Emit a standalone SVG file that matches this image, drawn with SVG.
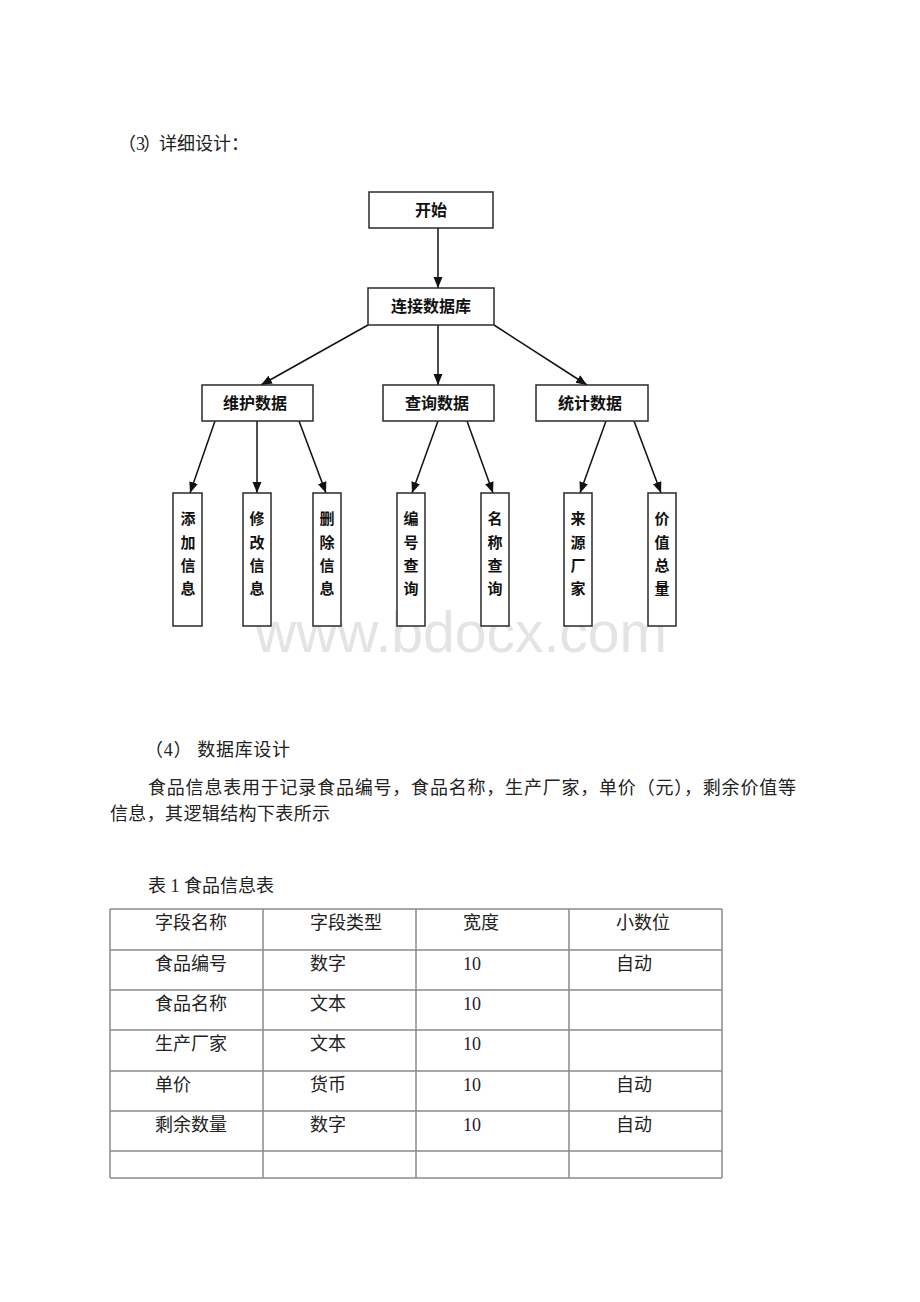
<svg xmlns="http://www.w3.org/2000/svg" width="920" height="1302" viewBox="0 0 920 1302">
<style>
.bg{fill:#ffffff}
.box{fill:#ffffff;stroke:#2a2a2a;stroke-width:1.5}
.fl{font-family:"Noto Sans CJK SC",sans-serif;font-weight:bold;font-size:16px;fill:#111;text-anchor:middle}
.lf{font-family:"Noto Sans CJK SC",sans-serif;font-weight:bold;font-size:15px;fill:#111;text-anchor:middle}
.tx{font-family:"Liberation Serif","Noto Sans CJK SC",serif;font-size:18px;fill:#222;font-variant-ligatures:none}
.conn line{stroke:#111;stroke-width:1.5}
.grid line{stroke:#8a8a8a;stroke-width:1.5}
.wm{font-family:"Liberation Sans",Arial,sans-serif;font-size:58px;fill:#e4e4e4}
</style>
<defs>
<marker id="ah" markerUnits="userSpaceOnUse" markerWidth="12" markerHeight="10" refX="11" refY="4.5" orient="auto">
<path d="M0,0 L11,4.5 L0,9 z" fill="#111"/>
</marker>
</defs>
<rect class="bg" x="0" y="0" width="920" height="1302"/>
<text class="wm" x="255" y="652" textLength="412" lengthAdjust="spacingAndGlyphs">www.bdocx.com</text>

<g id="heading3">
<text class="tx" x="118" y="150" font-size="17">（</text>
<text class="tx" x="136" y="150" font-size="17">3</text>
<text class="tx" x="143" y="150" font-size="17">）</text>
<text class="tx" x="159" y="150" font-size="17">详细设计：</text>
</g>

<g class="conn">
<line x1="438" y1="228" x2="438" y2="288" marker-end="url(#ah)"/>
<line x1="368" y1="325" x2="261" y2="385" marker-end="url(#ah)"/>
<line x1="438" y1="325" x2="438" y2="385" marker-end="url(#ah)"/>
<line x1="494" y1="325" x2="587" y2="385" marker-end="url(#ah)"/>
<line x1="215" y1="421" x2="190" y2="493" marker-end="url(#ah)"/>
<line x1="257" y1="421" x2="257" y2="493" marker-end="url(#ah)"/>
<line x1="299" y1="421" x2="326" y2="493" marker-end="url(#ah)"/>
<line x1="438" y1="421" x2="412" y2="493" marker-end="url(#ah)"/>
<line x1="467" y1="421" x2="493" y2="493" marker-end="url(#ah)"/>
<line x1="606" y1="421" x2="580" y2="493" marker-end="url(#ah)"/>
<line x1="634" y1="421" x2="661" y2="493" marker-end="url(#ah)"/>
</g>

<g id="start"><rect class="box" x="369" y="192" width="124" height="36"/><text class="fl" x="431" y="216">开始</text></g>
<g id="connect"><rect class="box" x="368" y="288" width="126" height="37"/><text class="fl" x="431" y="312">连接数据库</text></g>
<g id="maintain"><rect class="box" x="202" y="385" width="111" height="36"/><text class="fl" x="255" y="409">维护数据</text></g>
<g id="query"><rect class="box" x="383" y="385" width="111" height="36"/><text class="fl" x="437" y="409">查询数据</text></g>
<g id="stats"><rect class="box" x="536" y="385" width="112" height="36"/><text class="fl" x="590" y="409">统计数据</text></g>

<g id="add"><rect class="box" x="173" y="493" width="29" height="133"/><text class="lf" x="188" y="524">添</text><text class="lf" x="188" y="548">加</text><text class="lf" x="188" y="571">信</text><text class="lf" x="188" y="594">息</text></g>
<g id="modify"><rect class="box" x="243" y="493" width="28" height="133"/><text class="lf" x="257" y="524">修</text><text class="lf" x="257" y="548">改</text><text class="lf" x="257" y="571">信</text><text class="lf" x="257" y="594">息</text></g>
<g id="delete"><rect class="box" x="313" y="493" width="28" height="133"/><text class="lf" x="327" y="524">删</text><text class="lf" x="327" y="548">除</text><text class="lf" x="327" y="571">信</text><text class="lf" x="327" y="594">息</text></g>
<g id="byid"><rect class="box" x="397" y="493" width="28" height="133"/><text class="lf" x="411" y="524">编</text><text class="lf" x="411" y="548">号</text><text class="lf" x="411" y="571">查</text><text class="lf" x="411" y="594">询</text></g>
<g id="byname"><rect class="box" x="481" y="493" width="28" height="133"/><text class="lf" x="495" y="524">名</text><text class="lf" x="495" y="548">称</text><text class="lf" x="495" y="571">查</text><text class="lf" x="495" y="594">询</text></g>
<g id="source"><rect class="box" x="564" y="493" width="28" height="133"/><text class="lf" x="578" y="524">来</text><text class="lf" x="578" y="548">源</text><text class="lf" x="578" y="571">厂</text><text class="lf" x="578" y="594">家</text></g>
<g id="value"><rect class="box" x="648" y="493" width="28" height="133"/><text class="lf" x="662" y="524">价</text><text class="lf" x="662" y="548">值</text><text class="lf" x="662" y="571">总</text><text class="lf" x="662" y="594">量</text></g>

<text class="tx" x="145" y="756" textLength="145">（4） 数据库设计</text>
<text class="tx" x="148" y="794" textLength="648">食品信息表用于记录食品编号，食品名称，生产厂家，单价（元），剩余价值等</text>
<text class="tx" x="110" y="820" textLength="220">信息，其逻辑结构下表所示</text>
<text class="tx" x="148" y="892">表 1 食品信息表</text>

<g id="table">
<g class="grid">
<line x1="110" y1="909" x2="722" y2="909"/>
<line x1="110" y1="950" x2="722" y2="950"/>
<line x1="110" y1="990" x2="722" y2="990"/>
<line x1="110" y1="1030" x2="722" y2="1030" stroke="#333"/>
<line x1="110" y1="1071" x2="722" y2="1071"/>
<line x1="110" y1="1111" x2="722" y2="1111"/>
<line x1="110" y1="1151" x2="722" y2="1151" stroke="#444"/>
<line x1="110" y1="1178" x2="722" y2="1178"/>
<line x1="110" y1="909" x2="110" y2="1178"/>
<line x1="263" y1="909" x2="263" y2="1178"/>
<line x1="416" y1="909" x2="416" y2="1178"/>
<line x1="569" y1="909" x2="569" y2="1178"/>
<line x1="722" y1="909" x2="722" y2="1178"/>
</g>
<text class="tx" x="155" y="929">字段名称</text><text class="tx" x="310" y="929">字段类型</text><text class="tx" x="463" y="929">宽度</text><text class="tx" x="616" y="929">小数位</text>
<text class="tx" x="155" y="970">食品编号</text><text class="tx" x="310" y="970">数字</text><text class="tx" x="463" y="970">10</text><text class="tx" x="616" y="970">自动</text>
<text class="tx" x="155" y="1010">食品名称</text><text class="tx" x="310" y="1010">文本</text><text class="tx" x="463" y="1010">10</text>
<text class="tx" x="155" y="1050">生产厂家</text><text class="tx" x="310" y="1050">文本</text><text class="tx" x="463" y="1050">10</text>
<text class="tx" x="155" y="1091">单价</text><text class="tx" x="310" y="1091">货币</text><text class="tx" x="463" y="1091">10</text><text class="tx" x="616" y="1091">自动</text>
<text class="tx" x="155" y="1131">剩余数量</text><text class="tx" x="310" y="1131">数字</text><text class="tx" x="463" y="1131">10</text><text class="tx" x="616" y="1131">自动</text>
</g>
</svg>
